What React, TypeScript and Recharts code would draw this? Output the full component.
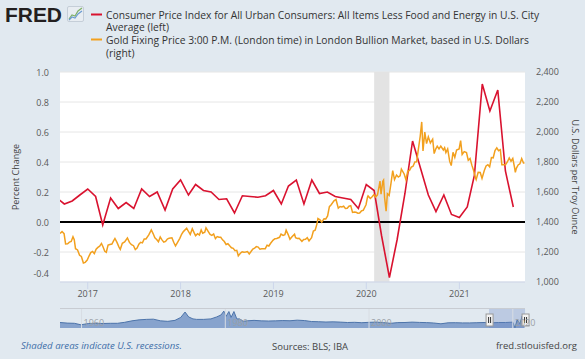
import React from 'react';
import {
  LineChart, Line, XAxis, YAxis, CartesianGrid, ReferenceLine, ReferenceArea,
  AreaChart, Area,
} from 'recharts';

// ---------- DATA ----------
const cpiMonths = [
  '2016-09', '2016-10', '2016-11', '2016-12',
  '2017-01', '2017-02', '2017-03', '2017-04', '2017-05', '2017-06', '2017-07', '2017-08', '2017-09', '2017-10', '2017-11', '2017-12',
  '2018-01', '2018-02', '2018-03', '2018-04', '2018-05', '2018-06', '2018-07', '2018-08', '2018-09', '2018-10', '2018-11', '2018-12',
  '2019-01', '2019-02', '2019-03', '2019-04', '2019-05', '2019-06', '2019-07', '2019-08', '2019-09', '2019-10', '2019-11', '2019-12',
  '2020-01', '2020-02', '2020-03', '2020-04', '2020-05', '2020-06', '2020-07', '2020-08', '2020-09', '2020-10', '2020-11', '2020-12',
  '2021-01', '2021-02', '2021-03', '2021-04', '2021-05', '2021-06', '2021-07', '2021-08',
];
const cpiValues = [
  0.16, 0.12, 0.14, 0.18,
  0.22, 0.17, -0.02, 0.16, 0.09, 0.13, 0.09, 0.22, 0.17, 0.20, 0.08, 0.22,
  0.28, 0.18, 0.25, 0.21, 0.20, 0.15, 0.155, 0.06, 0.175, 0.17, 0.165, 0.175,
  0.21, 0.12, 0.24, 0.28, 0.12, 0.28, 0.19, 0.20, 0.17, 0.16, 0.15, 0.09,
  0.25, 0.21, -0.09, -0.37, -0.12, 0.19, 0.54, 0.36, 0.18, 0.07, 0.18, 0.05,
  0.03, 0.10, 0.31, 0.92, 0.74, 0.88, 0.34, 0.10,
];

const goldDates = [
  '2016-09-14', '2016-09-22', '2016-09-30', '2016-10-06', '2016-10-14', '2016-10-21', '2016-10-28',
  '2016-11-04', '2016-11-09', '2016-11-14', '2016-11-22', '2016-11-30', '2016-12-07', '2016-12-15', '2016-12-22', '2016-12-30',
  '2017-01-06', '2017-01-13', '2017-01-20', '2017-01-27', '2017-02-03', '2017-02-10', '2017-02-17', '2017-02-24',
  '2017-03-02', '2017-03-09', '2017-03-15', '2017-03-22', '2017-03-29', '2017-04-06', '2017-04-12', '2017-04-18', '2017-04-26',
  '2017-05-04', '2017-05-09', '2017-05-17', '2017-05-26', '2017-06-06', '2017-06-14', '2017-06-22', '2017-06-30',
  '2017-07-07', '2017-07-14', '2017-07-21', '2017-07-28', '2017-08-04', '2017-08-11', '2017-08-18', '2017-08-29',
  '2017-09-08', '2017-09-15', '2017-09-22', '2017-09-29', '2017-10-06', '2017-10-13', '2017-10-20', '2017-10-27',
  '2017-11-03', '2017-11-10', '2017-11-17', '2017-11-28', '2017-12-05', '2017-12-12', '2017-12-19', '2017-12-29',
  '2018-01-05', '2018-01-12', '2018-01-25', '2018-01-31', '2018-02-08', '2018-02-16', '2018-02-23',
  '2018-03-01', '2018-03-09', '2018-03-16', '2018-03-23', '2018-03-29', '2018-04-06', '2018-04-11', '2018-04-20', '2018-04-27',
  '2018-05-04', '2018-05-11', '2018-05-18', '2018-05-25', '2018-06-01', '2018-06-08', '2018-06-15', '2018-06-22', '2018-06-29',
  '2018-07-06', '2018-07-13', '2018-07-20', '2018-07-27', '2018-08-03', '2018-08-10', '2018-08-16', '2018-08-24', '2018-08-31',
  '2018-09-07', '2018-09-14', '2018-09-21', '2018-09-28', '2018-10-05', '2018-10-12', '2018-10-19', '2018-10-26',
  '2018-11-02', '2018-11-09', '2018-11-16', '2018-11-30', '2018-12-07', '2018-12-14', '2018-12-21', '2018-12-31',
  '2019-01-07', '2019-01-14', '2019-01-25', '2019-01-31', '2019-02-08', '2019-02-15', '2019-02-20', '2019-02-28',
  '2019-03-07', '2019-03-15', '2019-03-25', '2019-03-29', '2019-04-05', '2019-04-12', '2019-04-23', '2019-04-30',
  '2019-05-07', '2019-05-14', '2019-05-21', '2019-05-31', '2019-06-07', '2019-06-14', '2019-06-21', '2019-06-25',
  '2019-07-03', '2019-07-10', '2019-07-19', '2019-07-26', '2019-08-02', '2019-08-09', '2019-08-16', '2019-08-27',
  '2019-09-04', '2019-09-13', '2019-09-20', '2019-09-27', '2019-10-04', '2019-10-11', '2019-10-18', '2019-10-25',
  '2019-11-01', '2019-11-08', '2019-11-15', '2019-11-22', '2019-11-29', '2019-12-06', '2019-12-13', '2019-12-20', '2019-12-31',
  '2020-01-06', '2020-01-08', '2020-01-17', '2020-01-24', '2020-01-31', '2020-02-07', '2020-02-14', '2020-02-21', '2020-02-24', '2020-02-28',
  '2020-03-06', '2020-03-09', '2020-03-13', '2020-03-19', '2020-03-24', '2020-03-31', '2020-04-07', '2020-04-14', '2020-04-21', '2020-04-29',
  '2020-05-06', '2020-05-13', '2020-05-18', '2020-05-29', '2020-06-05', '2020-06-12', '2020-06-19', '2020-06-26',
  '2020-07-03', '2020-07-10', '2020-07-17', '2020-07-24', '2020-07-31', '2020-08-06', '2020-08-11', '2020-08-18', '2020-08-25',
  '2020-09-01', '2020-09-09', '2020-09-18', '2020-09-24', '2020-09-30', '2020-10-06', '2020-10-13', '2020-10-20', '2020-10-30',
  '2020-11-04', '2020-11-09', '2020-11-16', '2020-11-24', '2020-11-30', '2020-12-07', '2020-12-14', '2020-12-21', '2020-12-31',
  '2021-01-06', '2021-01-12', '2021-01-20', '2021-01-29', '2021-02-05', '2021-02-12', '2021-02-19', '2021-02-26',
  '2021-03-05', '2021-03-08', '2021-03-16', '2021-03-24', '2021-03-31', '2021-04-09', '2021-04-16', '2021-04-23', '2021-04-30',
  '2021-05-07', '2021-05-14', '2021-05-21', '2021-05-28', '2021-06-04', '2021-06-11', '2021-06-17', '2021-06-25',
  '2021-07-02', '2021-07-09', '2021-07-16', '2021-07-23', '2021-07-30', '2021-08-06', '2021-08-09', '2021-08-13', '2021-08-20', '2021-08-27',
  '2021-09-03', '2021-09-10', '2021-09-14',
];
const goldValues = [
  1323, 1336, 1322, 1254, 1255, 1266, 1270,
  1302, 1282, 1222, 1214, 1178, 1170, 1127, 1131, 1146,
  1173, 1196, 1204, 1190, 1219, 1231, 1239, 1257,
  1235, 1205, 1198, 1246, 1250, 1253, 1272, 1290, 1264,
  1233, 1218, 1258, 1267, 1293, 1264, 1249, 1242,
  1217, 1227, 1252, 1265, 1261, 1287, 1287, 1314,
  1347, 1323, 1295, 1283, 1268, 1300, 1281, 1266,
  1271, 1286, 1292, 1295, 1265, 1241, 1261, 1291,
  1318, 1336, 1358, 1340, 1317, 1355, 1329,
  1309, 1322, 1313, 1347, 1325, 1332, 1361, 1336, 1317,
  1311, 1320, 1289, 1303, 1298, 1298, 1281, 1270, 1250,
  1255, 1241, 1228, 1224, 1209, 1211, 1174, 1192, 1201,
  1198, 1200, 1203, 1187, 1203, 1220, 1226, 1236,
  1233, 1219, 1222, 1222, 1245, 1240, 1258, 1279,
  1289, 1290, 1298, 1319, 1311, 1315, 1345, 1316,
  1285, 1302, 1319, 1295, 1290, 1291, 1271, 1283,
  1285, 1296, 1274, 1295, 1340, 1345, 1386, 1423,
  1415, 1399, 1422, 1420, 1440, 1502, 1515, 1541,
  1550, 1492, 1503, 1500, 1505, 1490, 1492, 1505,
  1509, 1464, 1466, 1465, 1459, 1460, 1474, 1478, 1515,
  1567, 1574, 1557, 1568, 1582, 1567, 1581, 1643, 1673, 1585,
  1672, 1680, 1563, 1472, 1589, 1577, 1656, 1743, 1683, 1713,
  1700, 1708, 1753, 1720, 1682, 1738, 1744, 1766,
  1772, 1800, 1801, 1887, 1971, 2067, 1874, 2000, 1923,
  1968, 1927, 1952, 1856, 1886, 1905, 1887, 1906, 1880,
  1895, 1863, 1887, 1804, 1776, 1865, 1831, 1879, 1887,
  1943, 1850, 1869, 1863, 1811, 1823, 1779, 1743,
  1697, 1683, 1731, 1730, 1691, 1743, 1774, 1782, 1768,
  1830, 1828, 1877, 1894, 1875, 1882, 1782, 1782,
  1783, 1802, 1827, 1805, 1823, 1762, 1731, 1758, 1780, 1788,
  1823, 1793, 1793,
];

const recessionStart = '2020-02-01';
const recessionEnd = '2020-04-01';
const domainStart = '2016-09-14';
const domainEnd = '2021-09-16';
const xTickYears = [2017, 2018, 2019, 2020, 2021];
const leftTicks = [-0.4, -0.2, 0, 0.2, 0.4, 0.6, 0.8, 1.0];
const rightTicks = [1000, 1200, 1400, 1600, 1800, 2000, 2200, 2400];

// navigator (long history overview)
const navYears = [
  1957, 1958, 1959, 1959.9, 1961, 1962, 1963, 1964, 1965, 1966, 1967, 1968, 1969, 1970, 1971, 1972, 1973,
  1973.8, 1974.4, 1974.9, 1975.5, 1976, 1977, 1978, 1978.8, 1979.4, 1979.8, 1980.1, 1980.5, 1980.8, 1981.2, 1981.6,
  1982, 1982.5, 1983, 1984, 1985, 1986, 1987, 1988, 1989, 1990, 1991, 1992, 1993, 1994, 1995, 1996, 1997, 1998,
  1999, 2000, 2001, 2002, 2003, 2004, 2005, 2006, 2007, 2008, 2009, 2010, 2011, 2012, 2013, 2014, 2015, 2016,
  2017, 2018, 2019, 2020.0, 2020.3, 2020.6, 2021.0, 2021.3, 2021.6,
];
const navValues = [
  0.18, 0.12, 0.10, -0.05, 0.08, 0.10, 0.08, 0.10, 0.10, 0.20, 0.35, 0.45, 0.50, 0.52, 0.35, 0.30, 0.40,
  0.70, 1.25, 0.75, 0.55, 0.50, 0.50, 0.55, 0.75, 0.95, 1.35, 0.80, 1.30, 0.70, 1.30, 0.55,
  0.55, 0.30, 0.35, 0.40, 0.35, 0.33, 0.35, 0.38, 0.36, 0.42, 0.38, 0.28, 0.26, 0.23, 0.25, 0.22, 0.18, 0.20,
  0.16, 0.20, 0.22, 0.17, 0.10, 0.17, 0.18, 0.22, 0.19, 0.17, 0.13, 0.05, 0.15, 0.16, 0.14, 0.14, 0.16, 0.18,
  0.15, 0.18, 0.18, 0.22, -0.37, 0.45, 0.05, 0.85, 0.10,
];
const navTickYears = [1960, 1980, 2000, 2020];

// ---------- helpers ----------
const toT = (s: string) => {
  const [y, m, d] = s.split('-').map(Number);
  return Date.UTC(y, (m || 1) - 1, d || 1);
};
const T0 = toT(domainStart);
const T1 = toT(domainEnd);
const toYearFrac = (t: number) => {
  const d = new Date(t);
  const y = d.getUTCFullYear();
  const a = Date.UTC(y, 0, 1);
  const b = Date.UTC(y + 1, 0, 1);
  return y + (t - a) / (b - a);
};

const cpiData = cpiMonths.map((m, i) => ({ t: toT(m), v: cpiValues[i] }));
const goldData = goldDates.map((d, i) => ({ t: toT(d), v: goldValues[i] }));
const xTicks = xTickYears.map((y) => Date.UTC(y, 0, 1));
const navData = navYears.map((y, i) => ({ y, v: navValues[i] }));
const navSelStart = toYearFrac(T0);
const navSelEnd = toYearFrac(T1);

const RED = '#d9122f';
const ORANGE = '#f2a01e';
const BG = '#e1e9f0';
const FONT = '"Open Sans", "DejaVu Sans", sans-serif';
const TICK_COLOR = '#595959';

const LeftTick = (props: any) => {
  const { x, y, payload } = props;
  const dy = payload.value === leftTicks[0] ? -9 : 0;
  return (
    <text x={x} y={y + dy} textAnchor="end" dominantBaseline="central"
      fill={TICK_COLOR} fontSize={9} fontFamily={FONT}>
      {Number(payload.value).toFixed(1)}
    </text>
  );
};

const Handle = (props: any) => {
  const { x1 } = props;
  const x = x1 ?? 0;
  return (
    <g>
      <rect x={x - 3} y={5} width={7} height={12} fill="#f2f2f2" stroke="#999" strokeWidth={1} />
      <line x1={x - 0.5} y1={8} x2={x - 0.5} y2={14} stroke="#333" strokeWidth={1} />
      <line x1={x + 1.5} y1={8} x2={x + 1.5} y2={14} stroke="#333" strokeWidth={1} />
    </g>
  );
};

export default function App() {
  return (
    <div style={{ position: 'absolute', left: 0, top: 0, width: 585, height: 359, background: BG, overflow: 'hidden' }}>
      <style>{'.fred-nav svg.recharts-surface{overflow:visible}'}</style>
      <div style={{ position: 'absolute', left: 0, top: 0 }}>
        <LineChart width={585} height={300} margin={{ top: 72, right: 0, bottom: 0, left: 0 }}>
          <CartesianGrid yAxisId="left" vertical={false} stroke="#e6e6e6" fill="#ffffff" fillOpacity={1} />
          <XAxis
            type="number" dataKey="t" domain={[T0, T1]} allowDataOverflow ticks={xTicks}
            tickFormatter={(t: number) => String(new Date(t).getUTCFullYear())}
            height={18} stroke="#ccd6eb" tickSize={7} tickMargin={2}
            tick={{ fill: TICK_COLOR, fontSize: 9, fontFamily: FONT }}
          />
          <YAxis
            yAxisId="left" orientation="left" width={60} domain={[-0.4, 1.0]} ticks={leftTicks}
            axisLine={false} tickLine={false} tickSize={0} tickMargin={11} tick={<LeftTick />}
            allowDataOverflow
          />
          <YAxis
            yAxisId="right" orientation="right" width={60} domain={[1000, 2400]} ticks={rightTicks}
            axisLine={false} tickLine={false} tickSize={0} tickMargin={11}
            tickFormatter={(v: number) => v.toLocaleString('en-US')}
            tick={{ fill: TICK_COLOR, fontSize: 9, fontFamily: FONT, textAnchor: 'start' }}
            allowDataOverflow
          />
          <ReferenceArea yAxisId="left" x1={toT(recessionStart)} x2={toT(recessionEnd)}
            fill="#e3e3e3" fillOpacity={1} stroke="none" ifOverflow="hidden" />
          <ReferenceLine yAxisId="left" y={0} stroke="#000000" strokeWidth={2} />
          <Line data={cpiData} dataKey="v" yAxisId="left" type="linear" stroke={RED}
            strokeWidth={1.6} dot={false} isAnimationActive={false} />
          <Line data={goldData} dataKey="v" yAxisId="right" type="linear" stroke={ORANGE}
            strokeWidth={1.5} dot={false} isAnimationActive={false} />
        </LineChart>
      </div>

      {/* navigator */}
      <div className="fred-nav" style={{ position: 'absolute', left: 60, top: 308, width: 465, height: 19, borderTop: '1px solid #c8ccd2', boxSizing: 'border-box' }}>
        <AreaChart width={465} height={19} margin={{ top: 0, right: 0, bottom: 0, left: 0 }}>
          <XAxis type="number" dataKey="y" domain={[1957, 2021.7]} hide allowDataOverflow />
          <YAxis domain={[-0.38, 1.56]} hide allowDataOverflow />
          {navTickYears.map((yr) => (
            <ReferenceLine key={yr} x={yr} stroke="#d8dde3" strokeWidth={1}
              label={{ value: String(yr), position: 'insideBottomLeft', offset: 2, fill: '#9aa0a6', fontSize: 9, fontFamily: FONT }} />
          ))}
          <Area data={navData} dataKey="v" type="linear" baseValue="dataMin" stroke="#4d74aa" strokeWidth={1}
            fill="#87a3cd" fillOpacity={1} isAnimationActive={false} />
          <ReferenceArea x1={navSelStart} x2={navSelEnd} fill="#6685c2" fillOpacity={0.3} stroke="none" ifOverflow="visible" />
          <ReferenceLine x={navSelStart} stroke="none" ifOverflow="visible" shape={<Handle />} />
          <ReferenceLine x={navSelEnd} stroke="none" ifOverflow="visible" shape={<Handle />} />
        </AreaChart>
      </div>

      {/* header, axis titles, footer */}
      <svg width={585} height={359} style={{ position: 'absolute', left: 0, top: 0, pointerEvents: 'none' }}>
        <text x={5} y={22} fontFamily='"Liberation Sans", Arial, sans-serif' fontWeight="bold" fontSize={19.5}
          fill="#231f20" textLength={57} lengthAdjust="spacingAndGlyphs">FRED</text>
        <g>
          <rect x={67.5} y={6.5} width={16} height={15} rx={1.5} fill="#e8edf2" stroke="#c5ced8" />
          <polyline points="69,19 72,15 75,16 78,11 82,8" fill="none" stroke="#7fb069" strokeWidth={1.2} />
          <polyline points="69,20 72,17 75,18 78,14 82,11" fill="none" stroke="#6b9bd1" strokeWidth={1.2} />
        </g>
        <line x1={91} y1={14.5} x2={102} y2={14.5} stroke={RED} strokeWidth={2} />
        <line x1={91} y1={39.5} x2={102} y2={39.5} stroke={ORANGE} strokeWidth={2} />
        <g fontFamily={FONT} fontSize={10.3} fill="#333333">
          <text x={106} y={14.5} dominantBaseline="central">Consumer Price Index for All Urban Consumers: All Items Less Food and Energy in U.S. City</text>
          <text x={106} y={27} dominantBaseline="central">Average (left)</text>
          <text x={106} y={39.5} dominantBaseline="central">Gold Fixing Price 3:00 P.M. (London time) in London Bullion Market, based in U.S. Dollars</text>
          <text x={106} y={52.5} dominantBaseline="central">(right)</text>
        </g>
        <text transform="translate(15,177) rotate(-90)" textAnchor="middle" dominantBaseline="central"
          fontFamily={FONT} fontSize={9} fill="#444">Percent Change</text>
        <text transform="translate(575,177) rotate(90)" textAnchor="middle" dominantBaseline="central"
          fontFamily={FONT} fontSize={9} fill="#444">U.S. Dollars per Troy Ounce</text>
        <text x={21} y={345} dominantBaseline="central" fontFamily={FONT} fontSize={9.6} fontStyle="italic" fill="#3e6ea8">Shaded areas indicate U.S. recessions.</text>
        <text x={272} y={346} dominantBaseline="central" fontFamily={FONT} fontSize={9.5} fill="#444">Sources: BLS; IBA</text>
        <text x={577} y={345} textAnchor="end" dominantBaseline="central" fontFamily={FONT} fontSize={9.5} fill="#444">fred.stlouisfed.org</text>
      </svg>
    </div>
  );
}
